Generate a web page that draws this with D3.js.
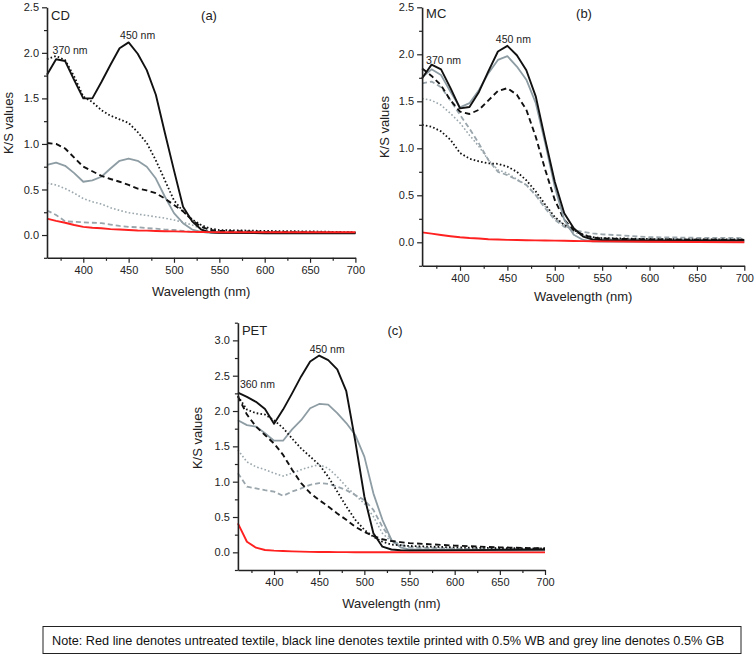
<!DOCTYPE html>
<html><head><meta charset="utf-8">
<script src="https://cdn.jsdelivr.net/npm/d3@7"></script>
<style>
body{margin:0;background:#fff;}
svg{display:block;font-family:Arial,"Liberation Sans",sans-serif;}
</style></head>
<body><svg id="chart" width="756" height="655"></svg>
<script>
const wavelengths = [360,370,380,390,400,410,420,430,440,450,460,470,480,490,500,510,520,530,540,550,600,650,700];
const xTicks = [400,450,500,550,600,650,700];

// Panel (a) CD
const cdBlackSolid  = [1.76,1.93,1.91,1.70,1.50,1.50,1.68,1.87,2.05,2.115,1.99,1.81,1.54,1.12,0.71,0.31,0.15,0.06,0.03,0.025,0.02,0.02,0.02];
const cdBlackDotted = [1.93,1.965,1.92,1.74,1.52,1.46,1.37,1.31,1.27,1.23,1.13,1.01,0.82,0.60,0.38,0.26,0.17,0.11,0.07,0.055,0.045,0.04,0.03];
const cdBlackDashed = [1.01,1.0,0.95,0.85,0.75,0.70,0.65,0.615,0.585,0.55,0.51,0.49,0.46,0.40,0.33,0.26,0.165,0.09,0.055,0.045,0.035,0.03,0.025];
const cdGreySolid   = [0.77,0.795,0.76,0.68,0.585,0.60,0.64,0.73,0.815,0.84,0.815,0.75,0.62,0.42,0.24,0.13,0.06,0.035,0.025,0.02,0.02,0.02,0.02];
const cdGreyDotted  = [0.57,0.55,0.51,0.46,0.40,0.365,0.34,0.30,0.27,0.245,0.23,0.215,0.20,0.185,0.165,0.14,0.11,0.07,0.045,0.03,0.025,0.02,0.02];
const cdGreyDashed  = [0.27,0.22,0.15,0.145,0.14,0.135,0.13,0.115,0.10,0.09,0.085,0.075,0.07,0.06,0.055,0.045,0.035,0.032,0.03,0.03,0.028,0.026,0.025];
const cdRed         = [0.18,0.155,0.135,0.11,0.09,0.08,0.075,0.065,0.06,0.055,0.05,0.048,0.045,0.042,0.04,0.037,0.035,0.033,0.032,0.03,0.03,0.03,0.03];

// Panel (b) MC
const mcBlackSolid  = [1.745,1.89,1.84,1.64,1.425,1.44,1.60,1.82,2.03,2.09,1.99,1.83,1.55,1.09,0.645,0.31,0.15,0.06,0.03,0.025,0.02,0.02,0.02];
const mcGreySolid   = [1.755,1.84,1.78,1.60,1.435,1.48,1.62,1.80,1.94,1.98,1.87,1.73,1.48,1.05,0.59,0.24,0.08,0.025,0.01,0.008,0.005,0.005,0.005];
const mcBlackDashed = [1.85,1.77,1.67,1.51,1.39,1.365,1.41,1.51,1.61,1.64,1.57,1.41,1.12,0.77,0.45,0.24,0.13,0.08,0.05,0.04,0.03,0.028,0.025];
const mcGreyDashed  = [1.69,1.71,1.65,1.51,1.355,1.21,1.05,0.875,0.75,0.715,0.665,0.61,0.50,0.36,0.24,0.165,0.13,0.11,0.095,0.085,0.055,0.048,0.045];
const mcGreyDotted  = [1.53,1.51,1.46,1.37,1.27,1.14,1.02,0.875,0.77,0.735,0.67,0.61,0.50,0.38,0.255,0.185,0.11,0.07,0.05,0.04,0.035,0.03,0.03];
const mcBlackDotted = [1.25,1.23,1.18,1.09,0.95,0.89,0.86,0.84,0.835,0.805,0.75,0.66,0.54,0.40,0.27,0.185,0.13,0.08,0.055,0.045,0.035,0.03,0.03];
const mcRed         = [0.105,0.092,0.078,0.065,0.053,0.045,0.04,0.032,0.029,0.026,0.025,0.022,0.02,0.019,0.018,0.016,0.014,0.012,0.011,0.01,0.006,0.003,0.0];

// Panel (c) PET
const petBlackSolid  = [2.26,2.20,2.13,2.03,1.82,2.02,2.25,2.49,2.70,2.785,2.72,2.59,2.28,1.57,0.79,0.27,0.08,0.04,0.03,0.025,0.03,0.035,0.04];
const petGreySolid   = [1.87,1.80,1.78,1.685,1.58,1.58,1.74,1.87,2.04,2.10,2.09,1.97,1.83,1.66,1.355,0.835,0.46,0.175,0.07,0.04,0.03,0.025,0.025];
const petBlackDotted = [2.21,2.02,1.97,1.95,1.87,1.76,1.61,1.47,1.355,1.24,1.07,0.86,0.65,0.46,0.32,0.22,0.15,0.11,0.10,0.09,0.07,0.06,0.055];
const petBlackDashed = [2.21,1.95,1.78,1.66,1.54,1.38,1.17,0.98,0.84,0.74,0.65,0.55,0.46,0.36,0.29,0.23,0.185,0.16,0.145,0.13,0.095,0.07,0.055];
const petGreyDotted  = [1.45,1.28,1.21,1.17,1.12,1.08,1.12,1.17,1.21,1.24,1.19,1.07,0.93,0.81,0.69,0.505,0.27,0.15,0.105,0.08,0.055,0.045,0.04];
const petGreyDashed  = [1.12,0.93,0.905,0.88,0.86,0.80,0.86,0.905,0.955,0.98,0.97,0.93,0.88,0.81,0.74,0.60,0.36,0.175,0.105,0.07,0.05,0.045,0.04];
const petRed         = [0.41,0.15,0.066,0.033,0.024,0.018,0.014,0.01,0.007,0.005,0.004,0.003,0.003,0.002,0.002,0.002,0.001,0.001,0.001,0,0,0,0];

const noteText = "Note: Red line denotes untreated textile, black line denotes textile printed with 0.5% WB and grey line denotes 0.5% GB";

const styles = {
  greyDotted:  {stroke:"#9aa6ac", width:1.6, dash:"1.6,2.2"},
  greyDashed:  {stroke:"#9aa6ac", width:1.8, dash:"5,3"},
  greySolid:   {stroke:"#8e9da4", width:1.8, dash:null},
  blackDotted: {stroke:"#111", width:1.8, dash:"1.6,2.2"},
  blackDashed: {stroke:"#111", width:1.9, dash:"5.5,3.5"},
  blackSolid:  {stroke:"#111", width:1.9, dash:null},
  red:         {stroke:"#ff2020", width:1.9, dash:null}
};

const svg = d3.select("#chart");

function panel(cfg){
  const g = svg.append("g");
  const x = d3.scaleLinear().domain([360,700]).range([cfg.x0, cfg.x1]);
  const y = d3.scaleLinear().domain(cfg.yDomain).range([cfg.yBottom, cfg.yTop]);
  const yMajor = d3.range(0, cfg.yDomain[1]+0.001, 0.5);
  const yMinor = d3.range(-0.25, cfg.yDomain[1]+0.001, 0.5);
  const xMinor = d3.range(375, 700, 50);

  const line = d3.line().x((d,i)=>x(wavelengths[i])).y(d=>y(d));
  cfg.series.forEach(s=>{
    const st = styles[s.style];
    g.append("path").datum(s.values)
      .attr("d", line).attr("fill","none")
      .attr("stroke", st.stroke).attr("stroke-width", st.width)
      .attr("stroke-dasharray", st.dash)
      .attr("stroke-linejoin","round");
  });

  g.append("g").attr("transform",`translate(0,${cfg.yBottom})`)
    .call(d3.axisBottom(x).tickValues(xTicks).tickSize(5).tickPadding(3).tickSizeOuter(0));
  g.append("g").attr("transform",`translate(0,${cfg.yBottom})`)
    .call(d3.axisBottom(x).tickValues(xMinor).tickSize(3).tickFormat("").tickSizeOuter(0))
    .select(".domain").remove();
  g.append("g").attr("transform",`translate(${cfg.x0},0)`)
    .call(d3.axisLeft(y).tickValues(yMajor).tickFormat(d3.format(".1f")).tickSize(5).tickPadding(3).tickSizeOuter(0));
  g.append("g").attr("transform",`translate(${cfg.x0},0)`)
    .call(d3.axisLeft(y).tickValues(yMinor).tickSize(3).tickFormat("").tickSizeOuter(0))
    .select(".domain").remove();
  g.selectAll(".domain").attr("stroke","#222").attr("stroke-width",1.6);
  g.selectAll(".tick line").attr("stroke","#222").attr("stroke-width",1.2);
  g.selectAll(".tick text").attr("font-size",11).attr("fill","#222").attr("font-family","Arial, 'Liberation Sans', sans-serif");

  g.append("text").attr("x",(cfg.x0+cfg.x1)/2).attr("y",cfg.xTitleY)
    .attr("text-anchor","middle").attr("font-size",13).attr("fill","#222").text("Wavelength (nm)");
  g.append("text").attr("transform",`translate(${cfg.yTitleX},${cfg.yTitleY}) rotate(-90)`)
    .attr("text-anchor","middle").attr("font-size",13).attr("fill","#222").text("K/S values");

  g.append("text").attr("x",cfg.x0+4).attr("y",cfg.nameY).attr("font-size",13).attr("fill","#222").text(cfg.name);
  g.append("text").attr("x",cfg.letterX).attr("y",cfg.nameY).attr("text-anchor","middle").attr("font-size",13).attr("fill","#222").text(cfg.letter);
  cfg.annots.forEach(a=>{
    g.append("text").attr("x",x(a.nm)+a.dx).attr("y",y(a.v)).attr("text-anchor","middle")
      .attr("font-size",10.5).attr("fill","#222").text(a.text);
  });
}

panel({x0:47, x1:355.4, yTop:7.3, yBottom:257.8, yDomain:[-0.25,2.5],
  xTitleY:296, yTitleX:13, yTitleY:123, name:"CD", letter:"(a)", letterX:209, nameY:20,
  annots:[{text:"370 nm", nm:370, v:1.99, dx:14},{text:"450 nm", nm:450, v:2.15, dx:9}],
  series:[
    {style:"greyDotted", values:cdGreyDotted},
    {style:"greyDashed", values:cdGreyDashed},
    {style:"greySolid", values:cdGreySolid},
    {style:"blackDotted", values:cdBlackDotted},
    {style:"blackDashed", values:cdBlackDashed},
    {style:"blackSolid", values:cdBlackSolid},
    {style:"red", values:cdRed}
  ]});

panel({x0:422.1, x1:744.3, yTop:7.3, yBottom:265.8, yDomain:[-0.25,2.5],
  xTitleY:301, yTitleX:389, yTitleY:127, name:"MC", letter:"(b)", letterX:584, nameY:18,
  annots:[{text:"370 nm", nm:370, v:1.90, dx:12},{text:"450 nm", nm:450, v:2.12, dx:6}],
  series:[
    {style:"greyDotted", values:mcGreyDotted},
    {style:"greyDashed", values:mcGreyDashed},
    {style:"blackDotted", values:mcBlackDotted},
    {style:"blackDashed", values:mcBlackDashed},
    {style:"greySolid", values:mcGreySolid},
    {style:"blackSolid", values:mcBlackSolid},
    {style:"red", values:mcRed}
  ]});

panel({x0:237.9, x1:545, yTop:322.7, yBottom:570, yDomain:[-0.25,3.25],
  xTitleY:608, yTitleX:202, yTitleY:438, name:"PET", letter:"(c)", letterX:395, nameY:335,
  annots:[{text:"360 nm", nm:360, v:2.33, dx:19.5},{text:"450 nm", nm:450, v:2.82, dx:8}],
  series:[
    {style:"greyDotted", values:petGreyDotted},
    {style:"greyDashed", values:petGreyDashed},
    {style:"greySolid", values:petGreySolid},
    {style:"blackDotted", values:petBlackDotted},
    {style:"blackDashed", values:petBlackDashed},
    {style:"blackSolid", values:petBlackSolid},
    {style:"red", values:petRed}
  ]});

svg.append("rect").attr("x",43).attr("y",626.5).attr("width",698).attr("height",27)
  .attr("fill","none").attr("stroke","#222").attr("stroke-width",1);
svg.append("text").attr("x",52).attr("y",644.5).attr("font-size",12.7)
  .attr("font-family","'Liberation Sans Narrow','Arial Narrow',Arial,sans-serif")
  .attr("fill","#111").text(noteText);
</script></body></html>
